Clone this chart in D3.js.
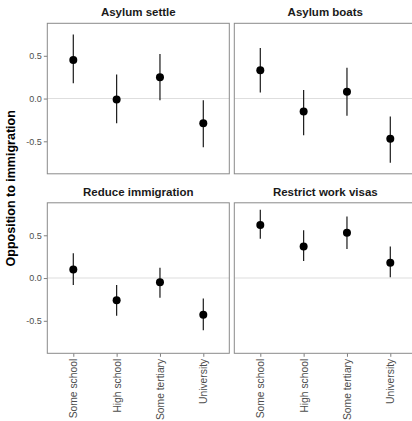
<!DOCTYPE html>
<html>
<head>
<meta charset="utf-8">
<script src="https://cdn.jsdelivr.net/npm/d3@7"></script>
<style>
  body { margin: 0; background: #fff; }
  svg { font-family: "Liberation Sans", Arial, sans-serif; }
</style>
</head>
<body>
<div id="chart"></div>
<script>
// categories and panels
var education = ['Some school', 'High school', 'Some tertiary', 'University'];
var facets = ['Asylum settle', 'Asylum boats', 'Reduce immigration', 'Restrict work visas'];
var yTicks = [-0.5, 0, 0.5];

// estimates with lower / upper interval, one set per panel
var asylumSettle = [0.45, -0.01, 0.25, -0.29];
var asylumSettleLow = [0.18, -0.29, -0.02, -0.57];
var asylumSettleHigh = [0.75, 0.28, 0.52, -0.02];

var asylumBoats = [0.33, -0.15, 0.08, -0.47];
var asylumBoatsLow = [0.07, -0.43, -0.20, -0.75];
var asylumBoatsHigh = [0.59, 0.10, 0.36, -0.21];

var reduceImm = [0.10, -0.26, -0.05, -0.43];
var reduceImmLow = [-0.08, -0.44, -0.23, -0.61];
var reduceImmHigh = [0.29, -0.08, 0.12, -0.24];

var workVisas = [0.62, 0.37, 0.53, 0.18];
var workVisasLow = [0.46, 0.20, 0.34, 0.01];
var workVisasHigh = [0.80, 0.56, 0.72, 0.37];

var panelData = [
	[asylumSettle, asylumSettleLow, asylumSettleHigh],
	[asylumBoats, asylumBoatsLow, asylumBoatsHigh],
	[reduceImm, reduceImmLow, reduceImmHigh],
	[workVisas, workVisasLow, workVisasHigh]
];

var svgWidth = 412;
var svgHeight = 421;

// panel layout
var panelW = 182;
var panelH = 150.5;
var colX = [47.3, 234.3];
var rowY = [23.3, 202.8];

var svg = d3.select('#chart').append('svg').attr('width', svgWidth).attr('height', svgHeight);

var xscale = d3.scalePoint()
	.domain(education)
	.range([0, panelW])
	.padding(0.6);
var yscale = d3.scaleLinear()
	.domain([-0.88, 0.88])
	.range([panelH, 0]);

facets.forEach(function(name, i) {
	var col = i % 2;
	var row = Math.floor(i / 2);
	var g = svg.append('g').attr('transform', `translate(${colX[col]}, ${rowY[row]})`);
	var vals = panelData[i];
	var rows = education.map(function(e, j) {
		return {cat: e, est: vals[0][j], lo: vals[1][j], hi: vals[2][j]};
	});

	// zero reference line
	g.append('line')
		.attr('x1', 0).attr('x2', panelW)
		.attr('y1', yscale(0)).attr('y2', yscale(0))
		.attr('stroke', '#dedede')
		.attr('stroke-width', 1.1);

	// panel title
	svg.append('text')
		.attr('x', colX[col] + panelW / 2)
		.attr('y', rowY[row] - 7)
		.attr('text-anchor', 'middle')
		.attr('font-size', '11.5px')
		.attr('font-weight', 'bold')
		.attr('fill', '#1a1a1a')
		.text(name);

	// error bars
	g.selectAll('line.err')
		.data(rows)
		.enter()
		.append('line')
		.attr('class', 'err')
		.attr('x1', d => xscale(d.cat))
		.attr('x2', d => xscale(d.cat))
		.attr('y1', d => yscale(d.lo))
		.attr('y2', d => yscale(d.hi))
		.attr('stroke', '#1a1a1a')
		.attr('stroke-width', 1.2);

	g.selectAll('circle')
		.data(rows)
		.enter()
		.append('circle')
		.attr('cx', d => xscale(d.cat))
		.attr('cy', d => yscale(d.est))
		.attr('r', 4)
		.attr('fill', '#000');

	// axes
	if (col == 0) {
		var leftAxis = d3.axisLeft(yscale)
			.tickValues(yTicks)
			.tickFormat(d3.format('.1f'))
			.tickSize(3.5)
			.tickPadding(2);
		var ya = g.append('g').call(leftAxis);
		ya.select('.domain').remove();
		ya.selectAll('line').attr('stroke', '#7f7f7f');
		ya.selectAll('text')
			.attr('font-size', '9px')
			.attr('fill', '#4d4d4d')
			.attr('font-family', '"Liberation Sans", Arial, sans-serif')
			.text(d => d3.format('.1f')(d).replace('−', '-'));
	}
	if (row == 1) {
		var bottomAxis = d3.axisBottom(xscale).tickSize(3.5).tickPadding(2);
		var xa = g.append('g').attr('transform', `translate(0, ${panelH})`).call(bottomAxis);
		xa.select('.domain').remove();
		xa.selectAll('line').attr('stroke', '#7f7f7f');
		xa.selectAll('text')
			.attr('font-size', '10.3px')
			.attr('fill', '#4d4d4d')
			.attr('font-family', '"Liberation Sans", Arial, sans-serif')
			.attr('transform', 'rotate(-90)')
			.attr('text-anchor', 'end')
			.attr('x', -5.5)
			.attr('y', 0)
			.attr('dy', '0.35em');
	}

	// border
	g.append('rect')
		.attr('width', panelW)
		.attr('height', panelH)
		.attr('fill', 'none')
		.attr('stroke', '#8a8a8a')
		.attr('stroke-width', 1);
});

// axis label
svg.append('text')
	.attr('transform', `translate(14.5, ${(rowY[0] + rowY[1] + panelH) / 2}) rotate(-90)`)
	.attr('text-anchor', 'middle')
	.attr('font-size', '12.5px')
	.attr('font-weight', 'bold')
	.attr('fill', '#000')
	.text('Opposition to immigration');
</script>
</body>
</html>
